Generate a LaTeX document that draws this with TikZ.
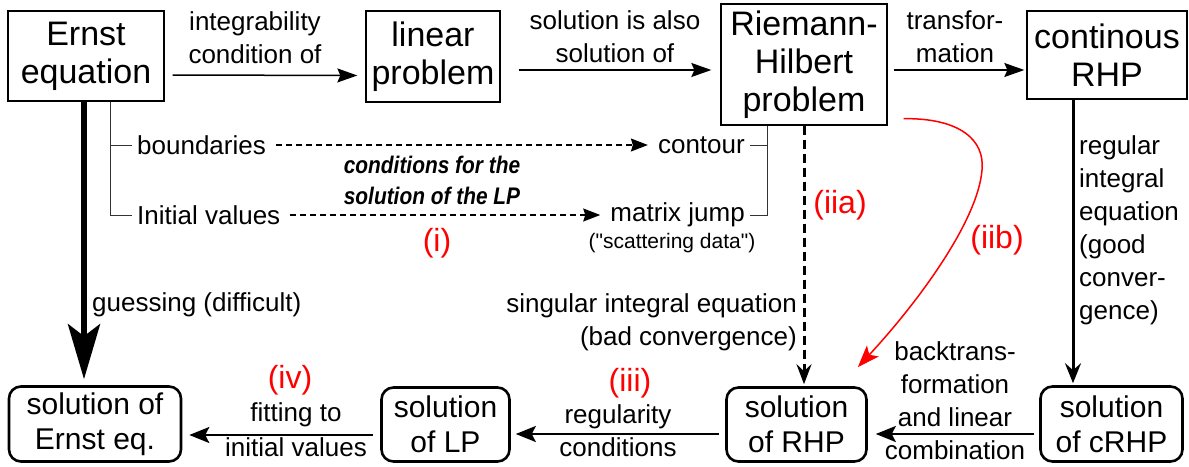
\documentclass[tikz,border=0pt]{standalone}
\usepackage{fontspec}
\usepackage{graphicx}
\setmainfont{Liberation Sans}
\newfontfamily\qfont{Liberation Sans}
\usetikzlibrary{arrows.meta}
\begin{document}
\begin{tikzpicture}[x=1pt,y=-1pt,
  topbox/.style={draw,line width=1.3pt,align=center,inner sep=0pt,font=\fontsize{34}{38}\selectfont},
  botbox/.style={draw,line width=2.6pt,rounded corners=12pt,align=center,inner sep=0pt,font=\fontsize{30}{35}\selectfont},
  lab/.style={align=center,inner sep=0pt,font=\fontsize{26}{33}\selectfont},
  sidelab/.style={inner ysep=0pt,inner xsep=5pt,font=\fontsize{26}{33}\selectfont},
  redlab/.style={text=red,inner sep=0pt,font=\fontsize{32}{36}\selectfont},
  arr/.style={line width=1.5pt,-{Stealth[length=20pt,width=14pt,inset=3pt]}},
  barr/.style={line width=2pt,-{Stealth[length=20pt,width=16pt,inset=4pt]}},
  darr/.style={line width=1.3pt,dash pattern=on 6pt off 4pt,-{Stealth[length=17pt,width=13pt,inset=2pt]}},
  tdarr/.style={line width=3pt,dash pattern=on 9pt off 5pt,-{Stealth[length=20pt,width=15pt,inset=7pt]}},
  varr/.style={line width=3pt,-{Stealth[length=20pt,width=16pt,inset=7pt]}},
  bigarr/.style={line width=6pt,-{Stealth[length=55pt,width=32pt,inset=12pt]}},
  redarr/.style={draw=red,line width=1.5pt,-{Stealth[length=22pt,width=16pt,inset=5pt]}},
  brk/.style={line width=1pt,black!80}
]
\useasboundingbox (0,0) rectangle (1189,466);

% top boxes
\node[topbox,minimum width=156pt,minimum height=90pt] (ernst) at (86,56) {Ernst\\equation};
\node[topbox,minimum width=134pt,minimum height=91pt] (lin) at (433,56.5) {linear\\problem};
\node[topbox,minimum width=166pt,minimum height=121pt] (rhp) at (804,64.5) {Riemann-\\Hilbert\\problem};
\node[topbox,minimum width=160pt,minimum height=88pt] (crhp) at (1107,55) {continous\\RHP};

% bottom boxes
\node[botbox,minimum width=172pt,minimum height=75pt] (sern) at (95,424) {solution of\\Ernst eq.};
\node[botbox,minimum width=128pt,minimum height=74pt] (slp) at (445.5,424.5) {solution\\of LP};
\node[botbox,minimum width=140pt,minimum height=74pt] (srhp) at (796.5,424.5) {solution\\of RHP};
\node[botbox,minimum width=142pt,minimum height=75pt] (scrhp) at (1111.5,424) {solution\\of cRHP};

% top arrows
\draw[arr] ([shift={(8,19)}]ernst.east) -- ([shift={(-8,19)}]lin.west);
\node[lab] (l1) at (255,38) {integrability\\condition of};
\draw[arr] ([shift={(18,13.5)}]lin.east) -- ([shift={(-9,5.5)}]rhp.west);
\node[lab] (l2) at (615,37) {solution is also\\solution of};
\draw[arr] ([shift={(6,5.5)}]rhp.east) -- ([shift={(-2,15)}]crhp.west);
\node[lab] (l3) at (955,37) {transfor-\\mation};

% conditions
\node[sidelab,anchor=west] (bnd) at (132,145) {boundaries};
\node[sidelab,anchor=west] (init) at (132,215) {Initial values};
\node[sidelab,anchor=east] (cont) at (750,145) {contour};
\node[sidelab,anchor=east] (mj) at (750,215) {matrix jump};
\node[inner sep=0pt,font=\fontsize{21}{25}\qfont] (scat) at (672,243) {("scattering data")};
\coordinate (bl) at ([shift={(24,0)}]ernst.south);
\draw[brk] (bl) |- (bnd.west);
\draw[brk] (bl) |- (init.west);
\coordinate (br) at ([shift={(-37,0)}]rhp.south);
\draw[brk] (br) |- (cont.east);
\draw[brk] (br) |- (mj.east);
\draw[darr] ([xshift=5pt]bnd.east) -- ([xshift=-5pt]cont.west);
\draw[darr] ([xshift=5pt]init.east) -- ([xshift=-5pt]mj.west);
\node[align=center,inner sep=0pt,font=\fontsize{24}{31}\selectfont\bfseries\itshape] (cond) at (432,180)
  {\scalebox{0.87}[1]{conditions for the}\\\scalebox{0.87}[1]{solution of the LP}};
\node[redlab] (ri) at (437,243) {(i)};

% left thick arrow
\draw[bigarr,shorten >=6pt] ([shift={(-2,0)}]ernst.south) -- ([shift={(-2,0)}]ernst.south |- sern.north);
\node[lab,anchor=west] (gs) at (92,305) {guessing (difficult)};

% RHP down dashed
\draw[tdarr,shorten >=2pt] (rhp.south) -- (rhp.south |- srhp.north);
\node[lab,align=right,anchor=east] (sing) at (797,322) {singular integral equation\\(bad convergence)};
\node[redlab] (riia) at (840,205) {(iia)};

% red curve
\draw[redarr] ([shift={(16,-7)}]rhp.south east) .. controls (960,118) and (985,140) .. (982,170)
  .. controls (978,220) and (920,300) .. ([shift={(-10,-19)}]srhp.north east);
\node[redlab] (riib) at (997,240) {(iib)};

% cRHP down
\draw[varr,shorten >=2pt] ([shift={(-34,0)}]crhp.south) -- ([shift={(-34,0)}]crhp.south |- scrhp.north);
\node[lab,align=left,anchor=west] (reg) at (1079,230) {regular\\integral\\equation\\(good\\conver-\\gence)};

% bottom arrows
\draw[barr] ([shift={(-5,10)}]scrhp.west) -- ([shift={(8,9.5)}]srhp.east);
\node[lab] (bt) at (955,401) {backtrans-\\formation\\and linear\\combination};
\draw[barr] ([shift={(-6,9.5)}]srhp.west) -- ([shift={(5,9.5)}]slp.east);
\node[lab] (rc) at (618,431) {regularity\\conditions};
\node[redlab] (riii) at (630,383) {(iii)};
\draw[barr] ([shift={(-7.5,10.5)}]slp.west) -- ([shift={(7,11)}]sern.east);
\node[lab] (ft) at (296,430) {fitting to\\[2pt]initial values};
\node[redlab] (riv) at (290,380) {(iv)};
\end{tikzpicture}
\end{document}
